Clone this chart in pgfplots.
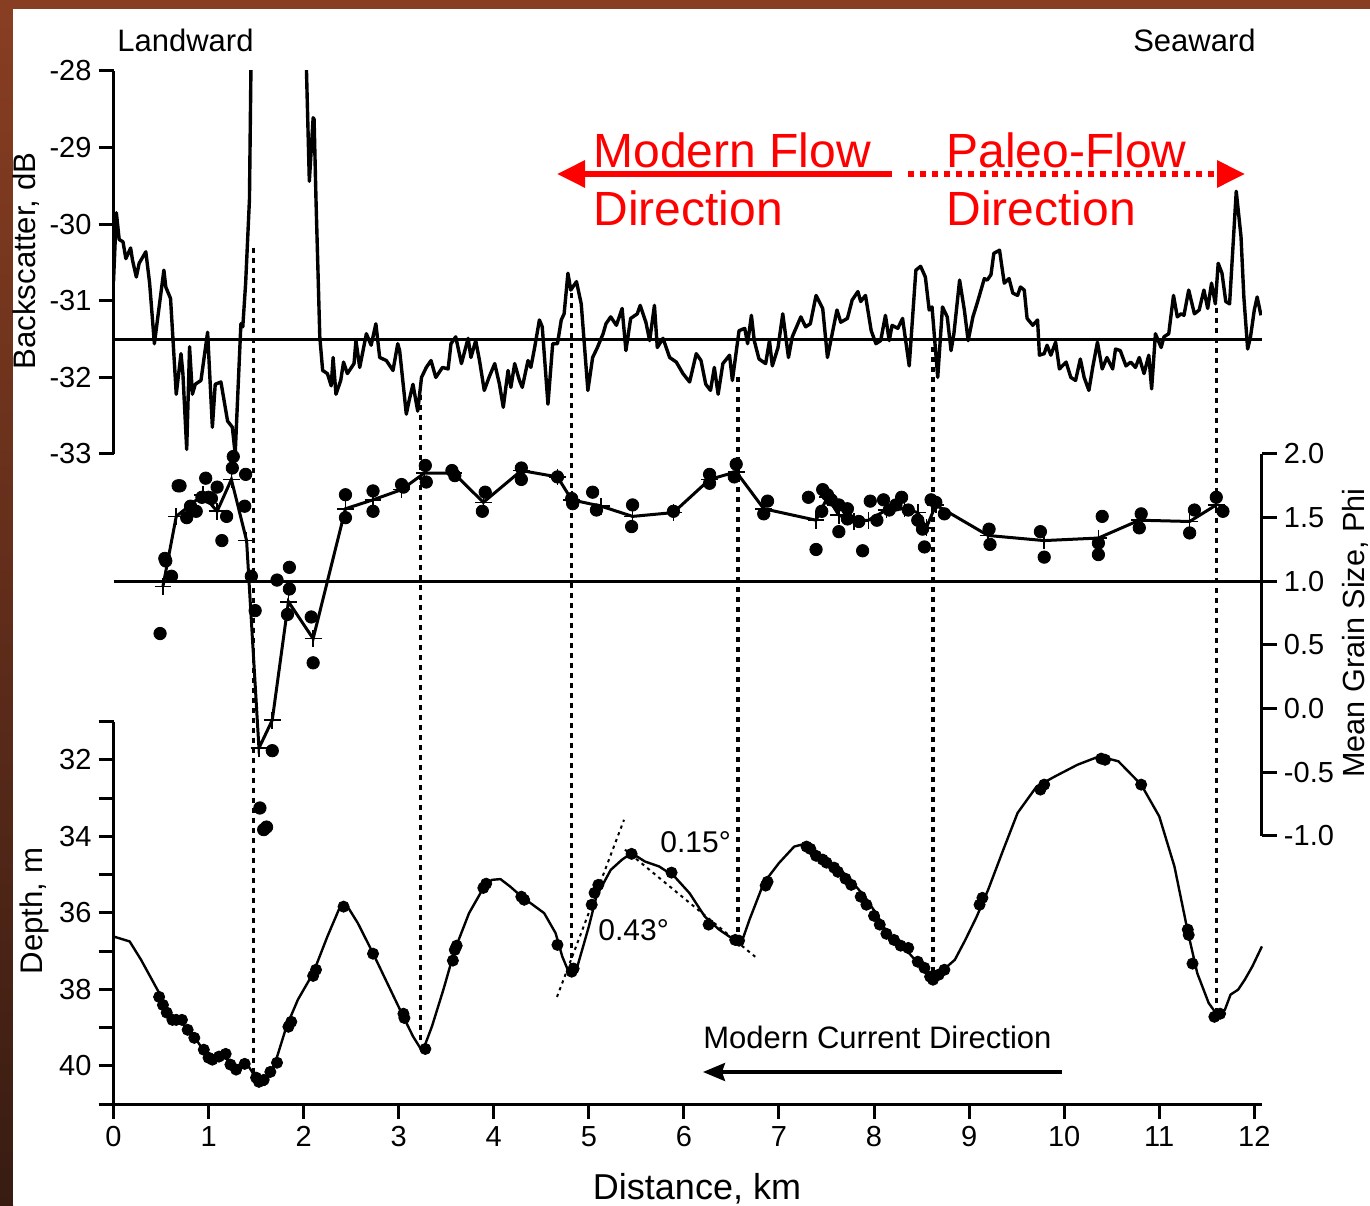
\documentclass[border=0pt]{standalone}
\usepackage{pgfplots}
\pgfplotsset{compat=1.18}
\usepackage{pgfplotstable}
\usepackage{fontspec}
\setmainfont{Liberation Sans}
\usetikzlibrary{arrows.meta}

\definecolor{slidebrown}{RGB}{136,62,34}
\definecolor{slidedark}{RGB}{56,28,18}

% Backscatter trace along the line (distance km, dB)
\pgfplotstableread{
x y
0.00 -30.75
0.03 -29.85
0.06 -30.20
0.10 -30.23
0.13 -30.45
0.18 -30.31
0.20 -30.47
0.24 -30.69
0.27 -30.51
0.34 -30.36
0.38 -30.77
0.43 -31.56
0.48 -31.08
0.53 -30.60
0.55 -30.82
0.60 -30.97
0.66 -32.22
0.71 -31.69
0.73 -31.95
0.77 -32.94
0.80 -31.60
0.83 -32.22
0.86 -32.09
0.92 -32.04
0.99 -31.41
1.04 -32.65
1.07 -32.09
1.13 -32.06
1.20 -32.57
1.25 -32.65
1.28 -33.00
1.34 -31.30
1.36 -31.34
1.39 -30.77
1.43 -29.68
1.45 -27.50
1.47 -25.00
2.02 -25.00
2.03 -28.00
2.06 -29.44
2.10 -28.61
2.11 -28.63
2.13 -29.68
2.17 -31.47
2.20 -31.91
2.25 -31.95
2.29 -32.11
2.31 -31.74
2.34 -32.22
2.39 -32.04
2.42 -31.80
2.46 -31.95
2.53 -31.82
2.55 -31.52
2.59 -31.87
2.66 -31.43
2.71 -31.58
2.76 -31.30
2.80 -31.74
2.87 -31.78
2.94 -31.91
2.99 -31.56
3.01 -31.65
3.08 -32.48
3.11 -32.30
3.15 -32.09
3.20 -32.44
3.24 -32.00
3.29 -31.87
3.34 -31.78
3.39 -32.00
3.46 -31.87
3.52 -31.89
3.55 -31.56
3.60 -31.47
3.66 -31.82
3.73 -31.49
3.76 -31.74
3.81 -31.52
3.85 -31.78
3.90 -32.17
3.95 -32.00
4.01 -31.82
4.06 -32.09
4.10 -32.39
4.15 -31.91
4.18 -32.13
4.22 -31.82
4.27 -32.04
4.30 -32.13
4.36 -31.78
4.39 -31.87
4.43 -31.61
4.48 -31.25
4.51 -31.34
4.57 -32.35
4.62 -31.56
4.67 -31.56
4.71 -31.25
4.74 -31.17
4.78 -30.64
4.81 -30.86
4.87 -30.75
4.92 -31.04
4.99 -32.17
5.04 -31.74
5.09 -31.61
5.15 -31.43
5.18 -31.30
5.23 -31.21
5.29 -31.32
5.35 -31.10
5.39 -31.65
5.44 -31.23
5.51 -31.17
5.54 -31.06
5.60 -31.28
5.64 -31.52
5.69 -31.06
5.72 -31.61
5.78 -31.49
5.85 -31.74
5.92 -31.80
5.99 -31.95
6.06 -32.06
6.13 -31.69
6.18 -31.78
6.23 -32.09
6.28 -32.17
6.32 -31.87
6.36 -32.22
6.41 -31.82
6.48 -31.71
6.51 -32.04
6.58 -31.39
6.64 -31.36
6.67 -31.56
6.71 -31.19
6.74 -31.52
6.79 -31.76
6.86 -31.82
6.90 -31.52
6.93 -31.85
6.99 -31.61
7.04 -31.17
7.10 -31.74
7.14 -31.47
7.23 -31.21
7.28 -31.34
7.33 -31.30
7.39 -30.93
7.46 -31.10
7.51 -31.74
7.56 -31.43
7.61 -31.12
7.65 -31.28
7.72 -31.23
7.77 -30.99
7.83 -30.88
7.86 -31.01
7.91 -30.93
7.97 -31.39
8.02 -31.56
8.07 -31.52
8.12 -31.19
8.16 -31.52
8.19 -31.32
8.25 -31.36
8.30 -31.23
8.37 -31.85
8.44 -30.60
8.49 -30.55
8.54 -30.69
8.58 -31.12
8.61 -31.08
8.67 -32.00
8.72 -31.08
8.77 -31.21
8.81 -31.65
8.84 -31.43
8.90 -30.73
8.95 -31.12
8.99 -31.52
9.04 -31.21
9.09 -31.01
9.16 -30.71
9.19 -30.73
9.23 -30.66
9.26 -30.38
9.32 -30.34
9.37 -30.77
9.42 -30.71
9.46 -30.90
9.51 -30.93
9.54 -30.82
9.58 -30.86
9.61 -31.23
9.67 -31.32
9.72 -31.25
9.74 -31.71
9.79 -31.69
9.82 -31.58
9.86 -31.71
9.91 -31.54
9.95 -31.89
10.02 -31.80
10.07 -32.00
10.12 -32.04
10.17 -31.76
10.21 -32.00
10.26 -32.17
10.30 -31.87
10.35 -31.54
10.40 -31.89
10.45 -31.74
10.51 -31.89
10.54 -31.63
10.59 -31.65
10.65 -31.85
10.70 -31.80
10.75 -31.87
10.79 -31.74
10.84 -31.95
10.89 -31.71
10.92 -32.15
10.96 -31.43
11.02 -31.61
11.05 -31.47
11.10 -31.43
11.15 -30.93
11.19 -31.21
11.23 -31.17
11.26 -31.19
11.31 -30.86
11.37 -31.17
11.42 -31.12
11.47 -30.86
11.51 -31.10
11.55 -30.77
11.59 -31.04
11.62 -30.51
11.66 -30.64
11.70 -31.01
11.74 -31.04
11.81 -29.57
11.86 -30.16
11.89 -30.95
11.93 -31.63
11.96 -31.47
12.00 -31.12
12.03 -30.95
12.07 -31.19
}\backscatter

% Mean grain size of each station (phi)
\pgfplotstableread{
x y
0.52 0.96
0.66 1.51
0.94 1.68
1.09 1.55
1.24 1.80
1.40 1.32
1.53 -0.31
1.67 -0.09
1.84 0.84
2.10 0.55
2.44 1.57
2.73 1.64
3.03 1.72
3.27 1.85
3.58 1.85
3.89 1.62
4.29 1.87
4.67 1.82
4.82 1.64
5.13 1.59
5.46 1.51
5.89 1.54
6.27 1.80
6.55 1.86
6.84 1.57
7.39 1.48
7.51 1.66
7.63 1.52
7.79 1.47
7.94 1.48
8.13 1.56
8.32 1.57
8.46 1.54
8.55 1.42
8.65 1.60
9.20 1.36
9.79 1.32
10.36 1.34
10.79 1.48
11.32 1.47
11.60 1.60
}\grainmean

% Individual grab samples (phi)
\pgfplotstableread{
x y
0.49 0.59
0.54 1.18
0.55 1.16
0.61 1.04
0.68 1.75
0.70 1.75
0.77 1.50
0.81 1.59
0.87 1.55
0.93 1.66
0.97 1.81
1.00 1.66
1.03 1.65
1.09 1.74
1.14 1.32
1.19 1.51
1.25 1.89
1.26 1.98
1.38 1.59
1.39 1.84
1.45 1.04
1.49 0.77
1.54 -0.78
1.58 -0.95
1.61 -0.93
1.67 -0.33
1.72 1.01
1.83 0.74
1.85 0.94
1.85 1.11
2.08 0.72
2.10 0.36
2.44 1.68
2.44 1.50
2.73 1.71
2.73 1.55
3.03 1.76
3.05 1.74
3.28 1.91
3.29 1.78
3.56 1.87
3.59 1.83
3.88 1.55
3.91 1.70
4.29 1.89
4.29 1.80
4.67 1.82
4.82 1.65
4.83 1.61
5.04 1.70
5.08 1.56
5.45 1.43
5.46 1.60
5.89 1.55
6.27 1.84
6.27 1.77
6.53 1.82
6.55 1.92
6.84 1.53
6.88 1.63
7.31 1.66
7.39 1.25
7.45 1.55
7.46 1.72
7.51 1.68
7.55 1.64
7.63 1.60
7.63 1.39
7.72 1.57
7.72 1.49
7.84 1.47
7.88 1.24
7.96 1.63
8.03 1.48
8.10 1.64
8.16 1.56
8.23 1.60
8.29 1.66
8.36 1.56
8.46 1.48
8.51 1.41
8.53 1.27
8.60 1.64
8.65 1.62
8.74 1.53
9.21 1.41
9.22 1.29
9.75 1.39
9.79 1.19
10.36 1.30
10.36 1.21
10.40 1.51
10.79 1.42
10.81 1.53
11.32 1.38
11.37 1.56
11.60 1.66
11.67 1.55
}\graindots

% Bathymetric profile (depth, m)
\pgfplotstableread{
x y
0.00 36.62
0.17 36.75
0.29 37.23
0.49 38.14
0.60 38.71
0.68 38.80
0.80 39.06
0.92 39.50
1.04 39.89
1.15 39.67
1.27 40.06
1.39 39.89
1.51 40.37
1.59 40.50
1.70 39.93
1.82 38.97
1.94 38.27
2.10 37.58
2.25 36.62
2.37 35.92
2.45 35.79
2.57 36.27
2.72 37.01
2.88 37.84
3.04 38.67
3.15 39.23
3.25 39.63
3.35 38.97
3.47 38.01
3.59 36.97
3.74 36.01
3.88 35.40
3.98 35.14
4.07 35.12
4.17 35.31
4.29 35.57
4.41 35.79
4.53 36.01
4.65 36.53
4.72 37.14
4.80 37.62
4.88 37.40
5.00 36.36
5.08 35.57
5.23 34.88
5.35 34.61
5.45 34.44
5.59 34.66
5.74 34.79
5.90 35.05
6.06 35.49
6.22 36.10
6.37 36.44
6.53 36.71
6.61 36.75
6.69 36.18
6.84 35.22
7.00 34.70
7.16 34.27
7.30 34.18
7.39 34.40
7.51 34.66
7.63 34.83
7.75 35.14
7.90 35.57
8.02 36.01
8.14 36.53
8.26 36.88
8.37 37.06
8.49 37.40
8.61 37.75
8.73 37.49
8.85 37.23
8.96 36.71
9.08 36.10
9.20 35.40
9.36 34.35
9.51 33.39
9.71 32.70
9.90 32.44
10.14 32.13
10.37 31.91
10.57 32.04
10.81 32.65
11.00 33.48
11.16 34.79
11.30 36.49
11.40 37.58
11.52 38.36
11.61 38.67
11.69 38.54
11.75 38.14
11.83 38.01
11.90 37.75
11.98 37.40
12.08 36.88
}\depthline

% Sample stations on the profile
\pgfplotstableread{
x y
0.48 38.20
0.52 38.41
0.56 38.61
0.62 38.80
0.66 38.80
0.72 38.80
0.78 39.06
0.85 39.27
0.95 39.58
1.00 39.79
1.04 39.84
1.11 39.76
1.18 39.69
1.23 39.97
1.29 40.10
1.38 39.95
1.50 40.31
1.53 40.42
1.58 40.37
1.65 40.16
1.72 39.92
1.84 38.98
1.87 38.85
2.10 37.65
2.13 37.49
2.42 35.84
2.73 37.07
3.05 38.64
3.06 38.75
3.28 39.56
3.57 37.25
3.59 36.97
3.61 36.86
3.89 35.35
3.92 35.24
4.29 35.58
4.32 35.66
4.67 36.84
4.82 37.54
4.84 37.46
5.03 35.79
5.06 35.48
5.10 35.27
5.45 34.46
5.87 34.95
6.26 36.31
6.54 36.71
6.58 36.73
6.86 35.29
6.88 35.19
7.29 34.27
7.33 34.33
7.39 34.51
7.46 34.61
7.50 34.69
7.58 34.82
7.62 34.93
7.70 35.11
7.76 35.27
7.86 35.58
7.92 35.79
8.00 36.08
8.06 36.31
8.13 36.55
8.21 36.71
8.28 36.86
8.36 36.92
8.46 37.28
8.53 37.44
8.59 37.67
8.62 37.75
8.68 37.62
8.74 37.49
9.11 35.79
9.14 35.61
9.75 32.78
9.79 32.65
10.39 31.97
10.43 32.00
10.81 32.65
11.30 36.44
11.31 36.58
11.35 37.33
11.58 38.72
11.64 38.64
}\depthdots

\pgfplotsset{
  panel/.style={
    scale only axis, width=574.2pt, xmin=0, xmax=12.08, anchor=south west,
    axis line style={line width=1.5pt,-},
    tick style={line width=1.5pt, black},
    major tick length=7.5pt, tick align=outside,
    ticklabel style={font=\fontsize{14.5}{16}\selectfont},
  },
  marker line/.style={line width=1.8pt, dash pattern=on 2.6pt off 2.4pt},
}

\begin{document}
\begin{tikzpicture}
% slide background
\fill[slidebrown] (0,0) rectangle (685pt,602.5pt);
\shade[top color=slidebrown, bottom color=slidedark] (0,0) rectangle (6.5pt,597.75pt);
\fill[white] (6.5pt,0) rectangle (685pt,597.75pt);

% --- backscatter panel ---
\begin{axis}[panel, at={(56.75pt,375.5pt)}, height=191.5pt,
  ymin=-33, ymax=-28, axis x line=none, axis y line*=left,
  ytick={-33,-32,-31,-30,-29,-28},
  yticklabels={-33,-32,-31,-30,-29,-28}]
  \addplot[line width=1.5pt] coordinates {(0,-31.5) (12.08,-31.5)};
  \addplot[line width=1.7pt, line join=round] table {\backscatter};
\end{axis}

% --- bathymetry panel ---
\begin{axis}[panel, at={(56.75pt,50.5pt)}, height=191.25pt,
  ymin=31, ymax=41, y dir=reverse, clip=false,
  axis x line*=bottom, axis y line*=left,
  xtick={0,1,2,3,4,5,6,7,8,9,10,11,12},
  xticklabels={0,1,2,3,4,5,6,7,8,9,10,11,12},
  ytick={31,32,33,34,35,36,37,38,39,40,41},
  yticklabels={,32,,34,,36,,38,,40,}]
  % trough and crest markers
  \addplot[marker line] coordinates {(1.473,18.61) (1.473,40.2)};
  \addplot[marker line] coordinates {(3.229,22.46) (3.229,39.45)};
  \addplot[marker line] coordinates {(4.818,19.79) (4.818,37.49)};
  \addplot[marker line] coordinates {(6.569,21.99) (6.569,36.71)};
  \addplot[marker line] coordinates {(8.623,21.20) (8.623,37.62)};
  \addplot[marker line] coordinates {(11.602,20.18) (11.602,38.67)};
  % slope tangents
  \addplot[line width=1pt, dash pattern=on 1.6pt off 2pt] coordinates {(4.665,38.20) (5.37,33.57)};
  \addplot[line width=1pt, dash pattern=on 1.6pt off 2pt] coordinates {(5.38,34.35) (6.75,37.15)};
  \addplot[line width=1.2pt, line join=round] table {\depthline};
  \addplot[only marks, mark=*, mark size=2.8pt] table {\depthdots};
\end{axis}

% --- grain size panel ---
\begin{axis}[panel, at={(56.75pt,184.5pt)}, height=191pt,
  ymin=-1, ymax=2, clip=false, axis x line=none, axis y line*=right,
  ytick={-1,-0.5,0,0.5,1,1.5,2},
  yticklabels={-1.0,-0.5,0.0,0.5,1.0,1.5,2.0}]
  \addplot[line width=1.5pt] coordinates {(0,1) (12.08,1)};
  \addplot[only marks, mark=*, mark size=3.1pt] table {\graindots};
  \addplot[line width=1.5pt, mark=+, mark size=4.2pt, mark options={line width=0.8pt}] table {\grainmean};
\end{axis}

% annotations
\begin{scope}[x=0.5pt, y=-0.5pt, yshift=602.5pt]
  \node[anchor=base west, inner sep=0, font=\fontsize{15.5}{18}\selectfont] at (117,52) {Landward};
  \node[anchor=base east, inner sep=0, font=\fontsize{15.5}{18}\selectfont] at (1256,52) {Seaward};
  \node[anchor=base west, inner sep=0, text=red, font=\fontsize{24}{28}\selectfont] at (593,168) {Modern Flow};
  \node[anchor=base west, inner sep=0, text=red, font=\fontsize{24}{28}\selectfont] at (593,226) {Direction};
  \node[anchor=base west, inner sep=0, text=red, font=\fontsize{24}{28}\selectfont] at (946,168) {Paleo-Flow};
  \node[anchor=base west, inner sep=0, text=red, font=\fontsize{24}{28}\selectfont] at (946,226) {Direction};
  \draw[red, line width=3pt, -{Triangle[length=14pt,width=13pt]}] (892,174) -- (557,174);
  \draw[red, line width=3pt, dash pattern=on 3pt off 3pt, -{Triangle[length=14pt,width=13pt]}] (908,174) -- (1245,174);
  \node[anchor=base west, inner sep=0, font=\fontsize{15}{18}\selectfont] at (660,853) {0.15\textdegree};
  \node[anchor=base west, inner sep=0, font=\fontsize{15}{18}\selectfont] at (598,941) {0.43\textdegree};
  \node[anchor=base west, inner sep=0, font=\fontsize{15.5}{18}\selectfont] at (703,1048) {Modern Current Direction};
  \draw[line width=1.6pt, -{Stealth[length=11pt,width=9pt,inset=1.5pt]}] (1062,1072) -- (703,1072);
  \node[anchor=base, inner sep=0, rotate=90, font=\fontsize{15.6}{18}\selectfont] at (35,261) {Backscatter, dB};
  \node[anchor=base, inner sep=0, rotate=90, font=\fontsize{15.6}{18}\selectfont] at (42,911) {Depth, m};
  \node[anchor=base, inner sep=0, rotate=90, font=\fontsize{15.3}{18}\selectfont] at (1364,633) {Mean Grain Size, Phi};
  \node[anchor=base, inner sep=0, font=\fontsize{18}{20}\selectfont] at (697,1199) {Distance, km};
\end{scope}

\pgfresetboundingbox
\useasboundingbox (0,0) rectangle (685pt,602.5pt);
\end{tikzpicture}
\end{document}
